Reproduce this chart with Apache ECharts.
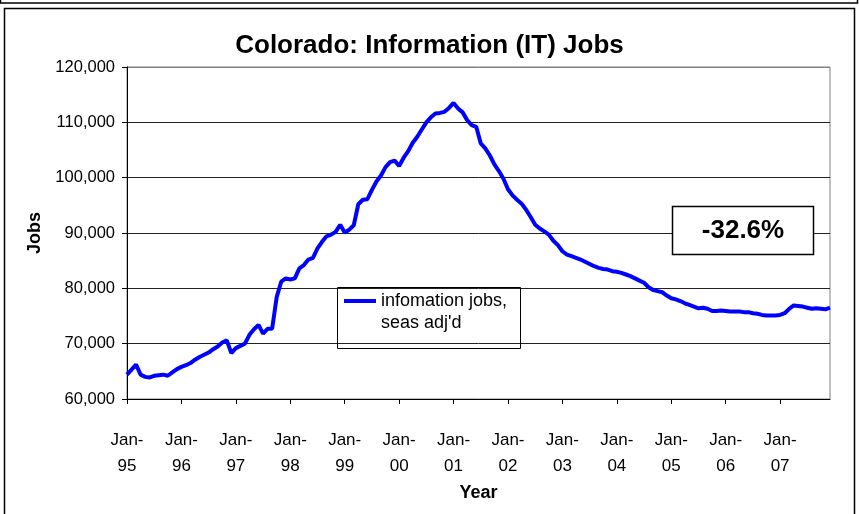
<!DOCTYPE html>
<html>
<head>
<meta charset="utf-8">
<script src="https://cdn.jsdelivr.net/npm/echarts@6/dist/echarts.min.js"></script>
<style>
html,body{margin:0;padding:0;background:#fff;}
#c{width:859px;height:514px;}
</style>
</head>
<body>
<div id="c"></div>
<script>
var months = ['Jan','Feb','Mar','Apr','May','Jun','Jul','Aug','Sep','Oct','Nov','Dec'];
var years = ['95','96','97','98','99','00','01','02','03','04','05','06','07'];
var yTicks = [60000, 70000, 80000, 90000, 100000, 110000, 120000];
var seriesName = 'infomation jobs,';
var seriesName2 = "seas adj'd";
var annotation = '-32.6%';
var jobs = [
 64400,65300,66200,64400,64000,63900,64200,64300,64400,64200,64800,65400,
 65800,66100,66500,67100,67600,68000,68400,69000,69500,70200,70600,68300,
 69200,69600,70000,71600,72600,73400,71800,72700,72700,78400,81200,81800,
 81600,81800,83600,84200,85200,85500,87200,88400,89400,89700,90200,91500,
 90100,90600,91400,95200,96000,96100,97800,99300,100400,101900,102800,103100,
 102100,103600,104800,106300,107400,108700,110000,110900,111600,111700,111900,112600,
 113500,112500,111800,110400,109500,109200,106200,105300,104000,102400,101200,99800,
 97900,96800,96000,95300,94200,92900,91500,90800,90300,89700,88600,87800,
 86700,86100,85800,85500,85200,84800,84400,84000,83700,83500,83400,83100,
 83000,82800,82500,82200,81800,81400,81000,80200,79700,79500,79300,78700,
 78200,78000,77700,77300,77000,76700,76400,76500,76300,75900,75900,76000,
 75900,75800,75800,75800,75700,75700,75500,75400,75200,75100,75100,75100,
 75200,75500,76300,76900,76800,76700,76500,76300,76400,76300,76200,76500
];
var categories = [];
years.forEach(function(y){ months.forEach(function(m){ categories.push(m + '-' + y); }); });

var FONT = '"Liberation Sans", Arial, sans-serif';
var chart = echarts.init(document.getElementById('c'), null, {renderer:'canvas'});
chart.setOption({
  animation: false,
  backgroundColor: '#fff',
  title: {
    text: 'Colorado: Information (IT) Jobs',
    left: 'center', top: 28,
    textStyle: {fontFamily: FONT, fontSize: 26, fontWeight: 'bold', color: '#000'}
  },
  grid: {left: 127, right: 29, top: 67, bottom: 115, show: true, borderColor: '#808080', borderWidth: 1, backgroundColor: 'transparent'},
  legend: {
    left: 344, top: 290, padding: 0,
    itemWidth: 32, itemHeight: 4, itemGap: 5,
    icon: 'rect',
    data: [{name: seriesName, icon: 'rect', itemStyle: {color: '#0000ff'}}],
    textStyle: {fontFamily: FONT, fontSize: 18, color: '#000', lineHeight: 22}
  },
  xAxis: {
    type: 'category', data: categories, boundaryGap: false,
    name: 'Year', nameLocation: 'middle', nameGap: 85,
    nameTextStyle: {fontFamily: FONT, fontSize: 18, fontWeight: 'bold', color: '#000'},
    axisLine: {lineStyle: {color: '#000', width: 1}},
    axisTick: {interval: 11, length: 5, lineStyle: {color: '#000'}},
    axisLabel: {
      interval: 11, margin: 28, fontFamily: FONT, fontSize: 17, color: '#000', lineHeight: 26,
      formatter: function(v){ var p = v.split('-'); return p[0] + '-\n' + p[1]; }
    },
    splitLine: {show: false}
  },
  yAxis: {
    type: 'value', min: yTicks[0], max: yTicks[yTicks.length-1], interval: 10000,
    name: 'Jobs', nameLocation: 'middle', nameGap: 77, nameRotate: 90,
    nameTextStyle: {fontFamily: FONT, fontSize: 18, fontWeight: 'bold', color: '#000'},
    axisLine: {show: true, lineStyle: {color: '#000', width: 1}},
    axisTick: {show: true, length: 5, lineStyle: {color: '#000'}},
    axisLabel: {
      margin: 12, fontFamily: FONT, fontSize: 16.5, color: '#000',
      formatter: function(v){ return v.toLocaleString('en-US'); }
    },
    splitLine: {show: true, lineStyle: {color: ['#222','#222','#222','#222','#222','#222','#808080'], width: 1}}
  },
  series: [{
    name: seriesName, type: 'line', data: jobs,
    symbol: 'none', showSymbol: false,
    lineStyle: {color: '#0000ff', width: 4},
    itemStyle: {color: '#0000ff'}
  }],
  graphic: [
    {type: 'rect', shape: {x: 0.5, y: -10, width: 857, height: 13}, style: {fill: 'none', stroke: '#000', lineWidth: 1.5}, silent: true},
    {type: 'rect', shape: {x: 4.5, y: 8.5, width: 850, height: 530}, style: {fill: 'none', stroke: '#000', lineWidth: 1.5}, silent: true},
    {type: 'rect', shape: {x: 337.5, y: 287.5, width: 183, height: 61}, style: {fill: 'none', stroke: '#000', lineWidth: 1}, silent: true, z: 50},
    {type: 'text', left: 381, top: 314, style: {text: seriesName2, fontFamily: FONT, fontSize: 18, fill: '#000'}, silent: true, z: 50},
    {type: 'rect', shape: {x: 672.5, y: 206.5, width: 141, height: 48}, style: {fill: '#fff', stroke: '#000', lineWidth: 1.5}, silent: true, z: 50},
    {type: 'text', x: 743, y: 231, style: {text: annotation, fontFamily: FONT, fontSize: 26, fontWeight: 'bold', fill: '#000', align: 'center', verticalAlign: 'middle'}, silent: true, z: 51}
  ]
});
</script>
</body>
</html>
